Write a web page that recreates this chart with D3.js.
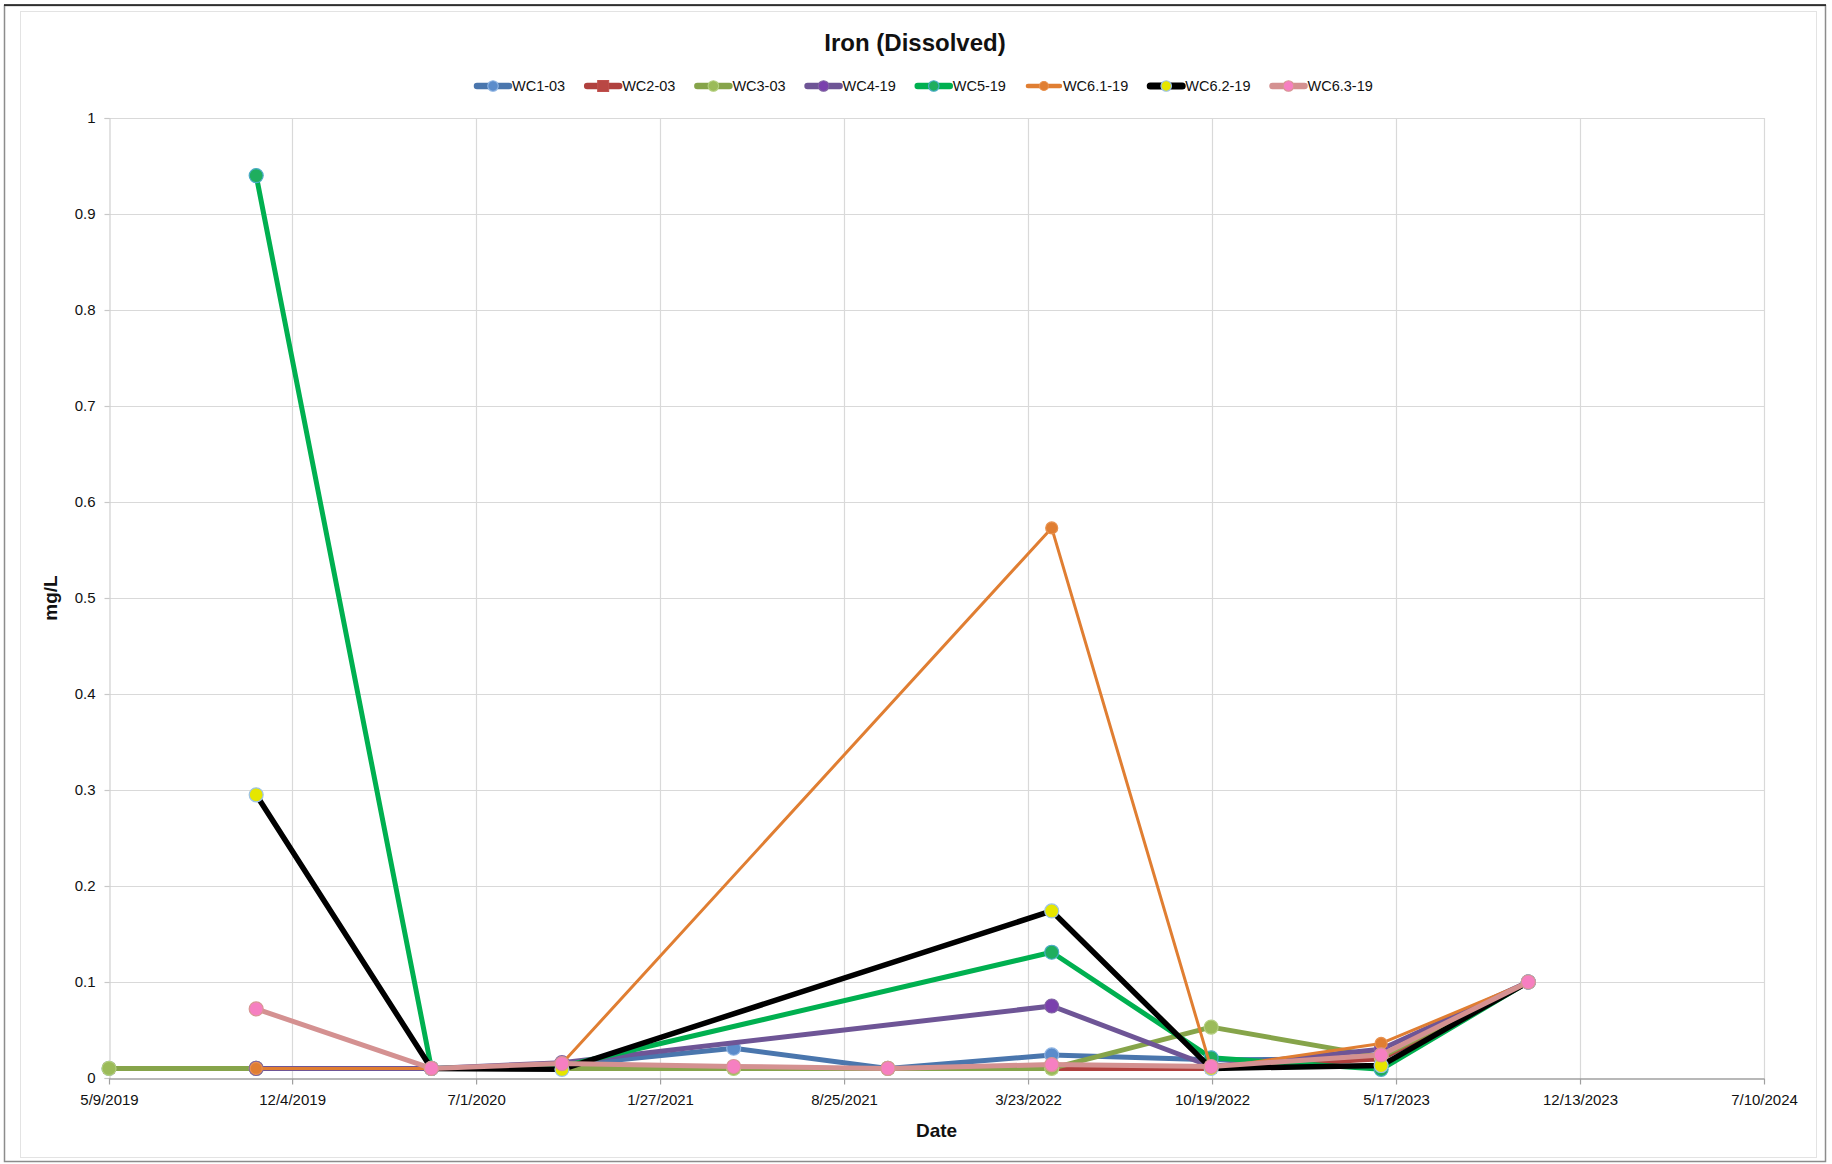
<!DOCTYPE html>
<html>
<head>
<meta charset="utf-8">
<script src="https://cdn.jsdelivr.net/npm/d3@7"></script>
<style>
  html, body { margin: 0; padding: 0; background: #ffffff; }
  svg { display: block; font-family: "Liberation Sans", Arial, sans-serif; }
</style>
</head>
<body>
<svg id="chart" width="1832" height="1164"></svg>
<script>
// Sampling dates (all series share these events)
const sampleDates = ["2019-05-09", "2019-10-24", "2020-05-11", "2020-10-07", "2021-04-21",
                     "2021-10-14", "2022-04-19", "2022-10-18", "2023-04-30", "2023-10-15"];

// Dissolved iron, mg/L (null = not sampled)
const wc1_03  = [0.01, 0.01, 0.01, 0.013, 0.031, 0.01, 0.024, 0.019, 0.02, 0.1];
const wc2_03  = [0.01, 0.01, 0.01, 0.01, 0.01, 0.01, 0.01, 0.01, 0.02, 0.1];
const wc3_03  = [0.01, 0.01, 0.01, 0.01, 0.01, 0.01, 0.01, 0.053, 0.022, 0.1];
const wc4_19  = [null, 0.01, 0.01, 0.016, null, null, 0.075, 0.012, 0.03, 0.1];
const wc5_19  = [null, 0.94, 0.01, 0.012, null, null, 0.131, 0.021, 0.009, 0.1];
const wc61_19 = [null, 0.01, 0.01, 0.015, null, null, 0.573, 0.01, 0.036, 0.1];
const wc62_19 = [null, 0.295, 0.01, 0.009, null, null, 0.174, 0.01, 0.013, 0.1];
const wc63_19 = [null, 0.072, 0.01, 0.015, 0.012, 0.01, 0.014, 0.012, 0.024, 0.1];

const seriesNames = ["WC1-03", "WC2-03", "WC3-03", "WC4-19", "WC5-19", "WC6.1-19", "WC6.2-19", "WC6.3-19"];
const seriesValues = [wc1_03, wc2_03, wc3_03, wc4_19, wc5_19, wc61_19, wc62_19, wc63_19];

// Axis ticks
const xTickDates = ["2019-05-09", "2019-12-04", "2020-07-01", "2021-01-27", "2021-08-25",
                    "2022-03-23", "2022-10-19", "2023-05-17", "2023-12-13", "2024-07-10"];
const yTickValues = [0, 0.1, 0.2, 0.3, 0.4, 0.5, 0.6, 0.7, 0.8, 0.9, 1];

// Per-series styling
const styles = [
  { line: "#4a76ad", width: 5,   fill: "#5b8ccb", stroke: "#8db3e2", shape: "circle", r: 7 },
  { line: "#b0413e", width: 5,   fill: "#b94744", stroke: "#c0504d", shape: "square", r: 5 },
  { line: "#86a44a", width: 5,   fill: "#9bbb59", stroke: "#b3cf7e", shape: "circle", r: 7 },
  { line: "#6e5596", width: 5,   fill: "#7a40ad", stroke: "#8064a2", shape: "circle", r: 7 },
  { line: "#00b050", width: 5,   fill: "#1fae5e", stroke: "#4bacc6", shape: "circle", r: 7 },
  { line: "#e07e32", width: 3,   fill: "#e07e32", stroke: "#e8914e", shape: "circle", r: 6 },
  { line: "#000000", width: 5.5, fill: "#e6e600", stroke: "#9dc3e6", shape: "circle", r: 7 },
  { line: "#d49191", width: 5,   fill: "#f67fc1", stroke: "#d99694", shape: "circle", r: 7 }
];

const parse = d3.utcParse("%Y-%m-%d");
const fmt = d3.utcFormat("%-m/%-d/%Y");

const svg = d3.select("#chart");
const plot = { left: 109, right: 1764, top: 118, bottom: 1078 };

// Frame
svg.append("rect").attr("x", 4.5).attr("y", 5.5).attr("width", 1821).attr("height", 1156)
  .attr("fill", "#fff").attr("stroke", "#8c8c8c").attr("stroke-width", 1.5);
svg.append("line").attr("x1", 4).attr("x2", 1826).attr("y1", 5).attr("y2", 5)
  .attr("stroke", "#111").attr("stroke-width", 1.5);
svg.append("rect").attr("x", 20.5).attr("y", 11.5).attr("width", 1796).attr("height", 1146)
  .attr("fill", "none").attr("stroke", "#e3e3e3").attr("stroke-width", 1);

const x = d3.scaleUtc()
  .domain([parse(xTickDates[0]), parse(xTickDates[xTickDates.length - 1])])
  .range([plot.left, plot.right]);
const y = d3.scaleLinear().domain([0, 1]).range([plot.bottom, plot.top]);

// Gridlines
const grid = svg.append("g");
grid.selectAll("line.h").data(yTickValues.slice(1)).join("line")
  .attr("x1", plot.left).attr("x2", plot.right)
  .attr("y1", d => Math.round(y(d)) + 0.5).attr("y2", d => Math.round(y(d)) + 0.5)
  .attr("stroke", "#d9d9d9").attr("stroke-width", 1.2);
grid.selectAll("line.v").data(xTickDates.slice(1)).join("line")
  .attr("x1", d => Math.round(x(parse(d))) + 0.5).attr("x2", d => Math.round(x(parse(d))) + 0.5)
  .attr("y1", plot.top).attr("y2", plot.bottom)
  .attr("stroke", "#d9d9d9").attr("stroke-width", 1.2);

// Y axis
const yAxis = svg.append("g").attr("transform", `translate(${plot.left + 0.5},0)`)
  .call(d3.axisLeft(y).tickValues(yTickValues).tickFormat(d => d3.format("~g")(d))
    .tickSize(5).tickPadding(9));
yAxis.select(".domain").attr("stroke", "#d0d0d0").attr("stroke-width", 1.2);
yAxis.selectAll(".tick line").attr("stroke", "#c8c8c8").attr("stroke-width", 1.2);
yAxis.selectAll(".tick text").attr("font-size", 15).attr("fill", "#111")
  .attr("font-family", "Liberation Sans, Arial, sans-serif");

// X axis
const xAxis = svg.append("g").attr("transform", `translate(0,${plot.bottom + 0.5})`)
  .call(d3.axisBottom(x).tickValues(xTickDates.map(parse)).tickFormat(fmt)
    .tickSize(6).tickSizeOuter(0).tickPadding(10));
xAxis.select(".domain").attr("stroke", "#a0a0a0").attr("stroke-width", 1.5);
xAxis.selectAll(".tick line").attr("stroke", "#a0a0a0").attr("stroke-width", 1.2);
xAxis.selectAll(".tick text").attr("font-size", 15).attr("fill", "#111")
  .attr("font-family", "Liberation Sans, Arial, sans-serif");

// Titles
svg.append("text").attr("x", 915).attr("y", 51).attr("text-anchor", "middle")
  .attr("font-size", 24).attr("font-weight", "bold").attr("fill", "#111").text("Iron (Dissolved)");
svg.append("text").attr("x", (plot.left + plot.right) / 2).attr("y", 1137).attr("text-anchor", "middle")
  .attr("font-size", 19).attr("font-weight", "bold").attr("fill", "#111").text("Date");
svg.append("text").attr("transform", `translate(57,${(plot.top + plot.bottom) / 2}) rotate(-90)`)
  .attr("text-anchor", "middle").attr("font-size", 19).attr("font-weight", "bold")
  .attr("fill", "#111").text("mg/L");

// Marker helper
function drawMarker(sel, st, cx, cy, scale) {
  const r = st.r * (scale || 1);
  if (st.shape === "square") {
    sel.append("rect").attr("x", cx - r).attr("y", cy - r).attr("width", 2 * r).attr("height", 2 * r)
      .attr("fill", st.fill).attr("stroke", st.stroke).attr("stroke-width", 1);
  } else {
    sel.append("circle").attr("cx", cx).attr("cy", cy).attr("r", r)
      .attr("fill", st.fill).attr("stroke", st.stroke).attr("stroke-width", 1.2);
  }
}

// Series: line then markers, in legend order
const lineGen = d3.line().x(d => x(d.date)).y(d => y(d.value));
seriesNames.forEach((name, i) => {
  const st = styles[i];
  const pts = sampleDates.map((d, k) => ({ date: parse(d), value: seriesValues[i][k] }))
    .filter(p => p.value !== null);
  const g = svg.append("g").attr("class", "series");
  g.append("path").datum(pts).attr("d", lineGen)
    .attr("fill", "none").attr("stroke", st.line).attr("stroke-width", st.width)
    .attr("stroke-linejoin", "round");
  pts.forEach(p => drawMarker(g, st, x(p.date), y(p.value), 1));
});

// Legend
const legend = svg.append("g");
let lx = 475;
const ly = 86;
seriesNames.forEach((name, i) => {
  const st = styles[i];
  const item = legend.append("g");
  item.append("line").attr("x1", lx + 2).attr("x2", lx + 34).attr("y1", ly).attr("y2", ly)
    .attr("stroke", st.line).attr("stroke-width", st.width + 1.5).attr("stroke-linecap", "round");
  drawMarker(item, st, lx + 18, ly, st.shape === "square" ? 1.1 : 0.75);
  const t = item.append("text").attr("x", lx + 37).attr("y", ly + 5).attr("font-size", 14.5)
    .attr("fill", "#111").text(name);
  lx += 37 + t.node().getComputedTextLength() + 20;
});
</script>
</body>
</html>
